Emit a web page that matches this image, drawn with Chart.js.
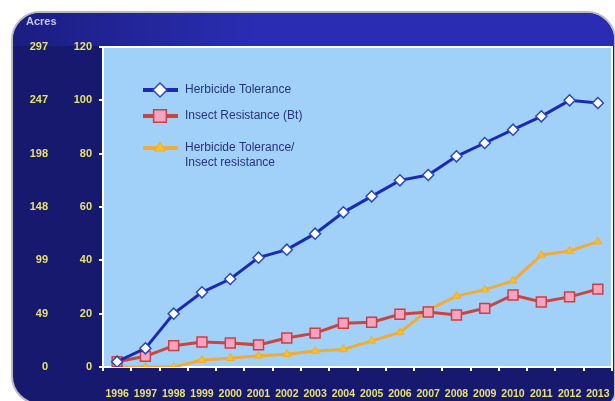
<!DOCTYPE html>
<html>
<head>
<meta charset="utf-8">
<script src="https://cdn.jsdelivr.net/npm/chart.js@4.4.1/dist/chart.umd.min.js"></script>
<style>
    html, body { margin: 0; padding: 0; background: #ffffff; }
    #wrap { width: 615px; height: 401px; }
</style>
</head>
<body>
<div id="wrap"><canvas id="gmChart" width="615" height="401"></canvas></div>
<script>
        // Data
        const years = ['1996', '1997', '1998', '1999', '2000', '2001', '2002', '2003', '2004',
                       '2005', '2006', '2007', '2008', '2009', '2010', '2011', '2012', '2013'];
        const herbicideTolerance = [2, 7, 20, 28, 33, 41, 44, 50, 58, 64, 70, 72, 79, 84, 89, 94, 100, 99];
        const insectResistance = [2, 4, 8, 9.4, 9, 8.3, 10.9, 12.7, 16.4, 16.8, 19.8, 20.6, 19.5, 22, 27, 24.4, 26.3, 29.2];
        const stackedTraits = [0, 0, 0, 2.6, 3.3, 4.2, 4.8, 6, 6.6, 9.8, 13, 21.4, 26.6, 29, 32.3, 42, 43.5, 47];
        const percentTicks = [0, 20, 40, 60, 80, 100, 120];
        const acreTicks = ['0', '49', '99', '148', '198', '247', '297'];

        const labelYellow = '#e6e26a';
        const tickFont = { family: '"Liberation Sans", Arial', size: 11, weight: 'bold' };
        const yearFont = { family: '"Liberation Sans", Arial', size: 10.5, weight: 'bold' };

        // Frame, title band and plot background
        const framePlugin = {
            id: 'frame',
            beforeDraw(chart) {
                const c = chart.ctx;
                const a = chart.chartArea;
                c.save();
                c.fillStyle = '#ffffff';
                c.fillRect(0, 0, chart.width, chart.height);

                c.beginPath();
                c.roundRect(12, 12, 603, 392, [28, 28, 10, 28]);
                c.fillStyle = '#17196f';
                c.fill();
                c.lineWidth = 2;
                c.strokeStyle = '#b9b9c4';
                c.stroke();

                // top band
                c.save();
                c.beginPath();
                c.roundRect(13, 13, 601, 390, [27, 27, 9, 27]);
                c.clip();
                const g = c.createLinearGradient(13, 0, 260, 0);
                g.addColorStop(0, '#1b1d80');
                g.addColorStop(1, '#2a2db4');
                c.fillStyle = g;
                c.fillRect(13, 13, 602, 33);
                c.restore();

                c.fillStyle = '#a1d0f8';
                c.fillRect(a.left, a.top, a.right - a.left, a.bottom - a.top);

                c.font = 'bold 11px "Liberation Sans", Arial, sans-serif';
                c.fillStyle = '#c4c4ea';
                c.textBaseline = 'middle';
                c.fillText('Acres', 26, 22);
                c.restore();
            },
            afterDatasetsDraw(chart) {
                const c = chart.ctx;
                const a = chart.chartArea;
                c.save();
                c.strokeStyle = '#ffffff';
                c.lineWidth = 2;
                c.beginPath();
                c.moveTo(a.left, a.top);
                c.lineTo(a.right, a.top);
                c.lineTo(a.right, a.bottom);
                c.stroke();
                c.restore();
            }
        };

        // Legend drawn inside the plot
        const insideLegend = {
            id: 'insideLegend',
            afterDraw(chart) {
                const c = chart.ctx;
                const rows = [
                    { ds: 0, y: 90, r: 7, lines: ['Herbicide Tolerance'] },
                    { ds: 1, y: 116, r: 9, lines: ['Insect Resistance (Bt)'] },
                    { ds: 2, y: 148, r: 6, lines: ['Herbicide Tolerance/', 'Insect resistance'] }
                ];
                c.save();
                rows.forEach(r => {
                    const ds = chart.data.datasets[r.ds];
                    c.strokeStyle = ds.borderColor;
                    c.lineWidth = 4;
                    c.beginPath();
                    c.moveTo(143, r.y);
                    c.lineTo(178, r.y);
                    c.stroke();
                    c.fillStyle = ds.pointBackgroundColor;
                    c.strokeStyle = ds.pointBorderColor;
                    c.lineWidth = ds.pointBorderWidth;
                    Chart.helpers.drawPoint(c, {
                        pointStyle: ds.pointStyle,
                        radius: r.r,
                        borderWidth: ds.pointBorderWidth
                    }, 160, r.y);
                    c.font = '12px "Liberation Sans", Arial, sans-serif';
                    c.fillStyle = '#27347e';
                    c.textBaseline = 'middle';
                    r.lines.forEach((t, i) => c.fillText(t, 185, r.y + i * 15));
                });
                c.restore();
            }
        };

        const ctx = document.getElementById('gmChart').getContext('2d');
        new Chart(ctx, {
            type: 'line',
            data: {
                labels: years,
                datasets: [{
                    label: 'Herbicide Tolerance',
                    data: herbicideTolerance,
                    borderColor: '#1a2ab6',
                    borderWidth: 3,
                    pointStyle: 'rectRot',
                    pointRadius: 5.5,
                    pointBackgroundColor: '#ffffff',
                    pointBorderColor: '#2a48c0',
                    pointBorderWidth: 1.5,
                    tension: 0
                }, {
                    label: 'Insect Resistance (Bt)',
                    data: insectResistance,
                    borderColor: '#c8463e',
                    borderWidth: 3,
                    pointStyle: 'rect',
                    pointRadius: 7,
                    pointBackgroundColor: '#f4a3c2',
                    pointBorderColor: '#cc4040',
                    pointBorderWidth: 1.5,
                    tension: 0
                }, {
                    label: 'Herbicide Tolerance/ Insect resistance',
                    data: stackedTraits,
                    borderColor: '#f2ab36',
                    borderWidth: 3,
                    pointStyle: 'triangle',
                    pointRadius: 4.5,
                    pointBackgroundColor: '#f8c21c',
                    pointBorderColor: '#f2ab36',
                    pointBorderWidth: 1,
                    tension: 0
                }]
            },
            options: {
                responsive: false,
                animation: false,
                layout: {
                    autoPadding: false,
                    padding: { top: 47, right: 3, bottom: 0, left: 0 }
                },
                plugins: {
                    legend: { display: false },
                    tooltip: { enabled: false }
                },
                scales: {
                    x: {
                        offset: true,
                        afterFit: s => {
                            s.height = 34;
                            // labels sit inside the offset gaps, no extra side room needed
                            s.paddingLeft = 0;
                            s.paddingRight = 0;
                        },
                        border: { color: '#ffffff', width: 2 },
                        grid: {
                            offset: true,
                            drawOnChartArea: false,
                            color: '#ffffff',
                            tickLength: 4,
                            lineWidth: 2
                        },
                        ticks: {
                            color: labelYellow,
                            maxRotation: 0,
                            autoSkip: false,
                            padding: 17,
                            font: yearFont
                        }
                    },
                    y: {
                        position: 'left',
                        weight: 0,
                        min: 0,
                        max: 120,
                        afterFit: s => { s.width = 47; },
                        afterBuildTicks: s => { s.ticks = percentTicks.map(v => ({ value: v })); },
                        border: { color: '#ffffff', width: 2 },
                        grid: {
                            drawOnChartArea: false,
                            color: '#ffffff',
                            tickLength: 4,
                            lineWidth: 2
                        },
                        ticks: {
                            color: labelYellow,
                            padding: 7,
                            font: tickFont
                        }
                    },
                    acres: {
                        position: 'left',
                        weight: 1,
                        min: 0,
                        max: 120,
                        afterFit: s => { s.width = 56; },
                        afterBuildTicks: s => { s.ticks = percentTicks.map(v => ({ value: v })); },
                        border: { display: false },
                        grid: { display: false, drawTicks: false },
                        ticks: {
                            color: labelYellow,
                            padding: 8,
                            callback: (v, i) => acreTicks[i],
                            font: tickFont
                        }
                    }
                }
            },
            plugins: [framePlugin, insideLegend]
        });
</script>
</body>
</html>
